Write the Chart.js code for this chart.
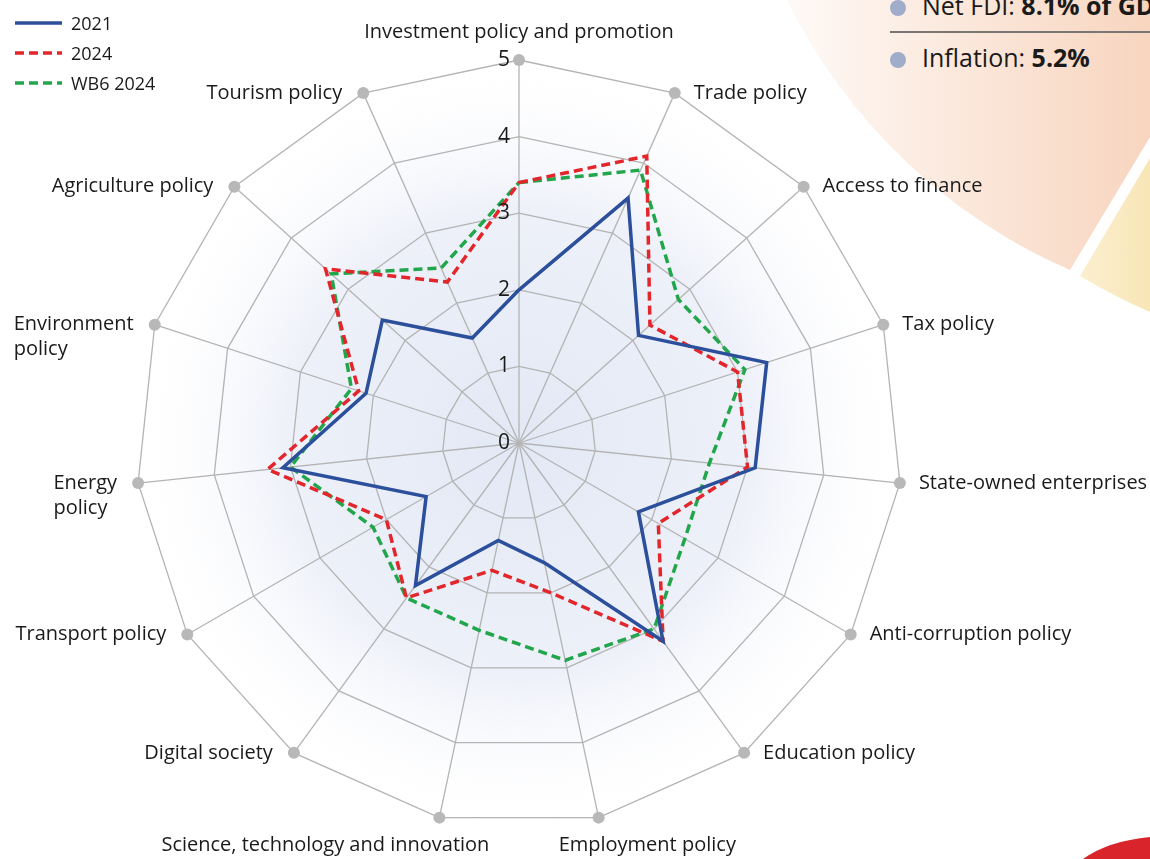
<!DOCTYPE html>
<html>
<head>
<meta charset="utf-8">
<script src="https://cdn.jsdelivr.net/npm/chart.js@4.4.1/dist/chart.umd.min.js"></script>
<style>
  html, body { margin: 0; padding: 0; background: #fff; overflow: hidden; }
  body { width: 1150px; height: 859px; position: relative; font-family: "Open Sans", sans-serif; color: #1a1a1a; }
  #deco { position: absolute; left: 0; top: 0; }
  #chart { position: absolute; left: 0; top: 0; }
  .legend { position: absolute; left: 14px; top: 8px; font-size: 18px; }
  .legend .row { height: 30px; display: flex; align-items: center; }
  .legend svg { margin-right: 8px; }
  .stat { position: absolute; left: 889px; font-size: 25px; white-space: nowrap; line-height: 30px; }
  .stat .dot { display: inline-block; width: 16px; height: 16px; border-radius: 50%; background: #9fadcb; margin: 0 16px 0 1px; vertical-align: -1px; }
  .rule { position: absolute; left: 890px; top: 31px; width: 260px; height: 2px; background: #7a7673; }
</style>
</head>
<body>
<svg id="deco" width="1150" height="859">
  <defs>
    <linearGradient id="peach" x1="780" y1="0" x2="1150" y2="0" gradientUnits="userSpaceOnUse">
      <stop offset="0" stop-color="#fefaf7"/>
      <stop offset="1" stop-color="#f8d5bf"/>
    </linearGradient>
    <linearGradient id="sand" x1="1075" y1="0" x2="1150" y2="0" gradientUnits="userSpaceOnUse">
      <stop offset="0" stop-color="#fbf0d2"/>
      <stop offset="1" stop-color="#f9e6b6"/>
    </linearGradient>
  </defs>
  <path d="M787,0 A568,568 0 0,0 1070,270 L1150,137 L1150,0 Z" fill="url(#peach)"/>
  <path d="M1080,276 L1150,158 L1150,312 A575,575 0 0,1 1080,276 Z" fill="url(#sand)"/>
  <path d="M1083,859 Q1108,841 1150,837 L1150,859 Z" fill="#d9242b"/>
</svg>
<div class="stat" style="top:-10px"><span class="dot"></span>Net FDI: <b>8.1% of GDP</b></div>
<div class="rule"></div>
<div class="stat" style="top:42px"><span class="dot"></span>Inflation: <b>5.2%</b></div>
<canvas id="chart" width="1150" height="859"></canvas>
<div class="legend" id="legend"></div>
<script>
const categories = [
  'Investment policy and promotion', 'Trade policy', 'Access to finance', 'Tax policy',
  'State-owned enterprises', 'Anti-corruption policy', 'Education policy', 'Employment policy',
  'Science, technology and innovation', 'Digital society', 'Transport policy',
  ['Energy', 'policy'], ['Environment', 'policy'], 'Agriculture policy', 'Tourism policy'
];
const scores2021 = [2.0, 3.5, 2.1, 3.4, 3.1, 1.8, 3.2, 1.6, 1.3, 2.3, 1.4, 3.1, 2.1, 2.4, 1.5];
const scores2024 = [3.4, 4.1, 2.3, 3.0, 3.0, 2.1, 3.2, 2.0, 1.7, 2.5, 2.0, 3.3, 2.2, 3.4, 2.3];
const scoresWB6 = [3.4, 3.9, 2.8, 3.1, 2.5, 2.5, 3.0, 2.9, 2.5, 2.5, 2.2, 3.0, 2.3, 3.3, 2.5];
const tickValues = [0, 1, 2, 3, 4, 5];

const gridColor = '#b4b4b4';

// soft blue glow behind the web
const webBackground = {
  id: 'webBackground',
  beforeDraw(chart) {
    const s = chart.scales.r;
    const ctx = chart.ctx;
    const g = ctx.createRadialGradient(s.xCenter, s.yCenter, 0, s.xCenter, s.yCenter, s.drawingArea * 1.02);
    g.addColorStop(0, '#e2e8f5');
    g.addColorStop(0.6, '#eef1f9');
    g.addColorStop(1, 'rgba(255,255,255,0)');
    ctx.save();
    ctx.fillStyle = g;
    ctx.beginPath();
    ctx.arc(s.xCenter, s.yCenter, s.drawingArea * 1.02, 0, Math.PI * 2);
    ctx.fill();
    ctx.restore();
  }
};

// outer dots, category labels and tick numbers
const webLabels = {
  id: 'webLabels',
  afterDraw(chart) {
    const s = chart.scales.r;
    const ctx = chart.ctx;
    ctx.save();
    ctx.fillStyle = '#b8b8b8';
    categories.forEach((c, i) => {
      const p = s.getPointPosition(i, s.drawingArea);
      ctx.beginPath();
      ctx.arc(p.x, p.y, 6, 0, Math.PI * 2);
      ctx.fill();
    });

    ctx.fillStyle = '#1a1a1a';
    ctx.font = '20px "Open Sans"';
    ctx.textBaseline = 'middle';
    const n = categories.length;
    categories.forEach((c, i) => {
      const lines = Array.isArray(c) ? c : [c];
      const p = s.getPointPosition(i, s.drawingArea);
      const deg = i * 360 / n;
      const w = Math.max(...lines.map(l => ctx.measureText(l).width));
      let x, y = p.y, align = 'left';
      if (deg === 0) {
        align = 'center'; x = p.x; y = p.y - 28;
      } else if (deg > 150 && deg < 210) {
        y = p.y + 28;
        if (deg < 180) { x = p.x - 40; } else { x = p.x + 50 - w; }
      } else if (p.x > s.xCenter) {
        x = p.x + 19;
      } else {
        x = p.x - 21 - w;
      }
      ctx.textAlign = align;
      lines.forEach((l, k) => ctx.fillText(l, x, y + k * 25));
    });

    ctx.font = '21px "Open Sans"';
    ctx.textAlign = 'right';
    tickValues.forEach(v => {
      ctx.fillText(String(v), s.xCenter - 9, s.yCenter - s.getDistanceFromCenterForValue(v));
    });
    ctx.restore();
  }
};

const series = [
  { label: '2021', data: scores2021, borderColor: '#2b4f9b', borderDash: [] },
  { label: '2024', data: scores2024, borderColor: '#e2262b', borderDash: [9, 5] },
  { label: 'WB6 2024', data: scoresWB6, borderColor: '#22a64b', borderDash: [9, 5] }
];

const chart = new Chart(document.getElementById('chart'), {
  type: 'radar',
  data: {
    labels: categories,
    datasets: series.map(d => ({
      label: d.label,
      data: d.data,
      borderColor: d.borderColor,
      borderDash: d.borderDash,
      borderWidth: 3.5,
      fill: false,
      pointRadius: 0,
      tension: 0
    }))
  },
  options: {
    responsive: false,
    animation: false,
    layout: { padding: { left: 136, right: 248, top: 60, bottom: 33 } },
    plugins: { legend: { display: false }, tooltip: { enabled: false } },
    elements: { line: { borderJoinStyle: 'miter' } },
    scales: {
      r: {
        min: 0,
        max: 5,
        ticks: { stepSize: 1, display: false },
        grid: { color: gridColor, lineWidth: 1.3 },
        angleLines: { color: gridColor, lineWidth: 1.3 },
        pointLabels: { display: false }
      }
    }
  },
  plugins: [webBackground, webLabels]
});

// legend built from the datasets
const legend = document.getElementById('legend');
chart.data.datasets.forEach(ds => {
  const row = document.createElement('div');
  row.className = 'row';
  const dash = ds.borderDash.length ? ds.borderDash.join(',') : 'none';
  row.innerHTML = '<svg width="49" height="6"><line x1="1" y1="3" x2="48" y2="3" stroke="' + ds.borderColor +
    '" stroke-width="3.5" stroke-dasharray="' + dash + '"/></svg><span>' + ds.label + '</span>';
  legend.appendChild(row);
});
</script>
</body>
</html>
